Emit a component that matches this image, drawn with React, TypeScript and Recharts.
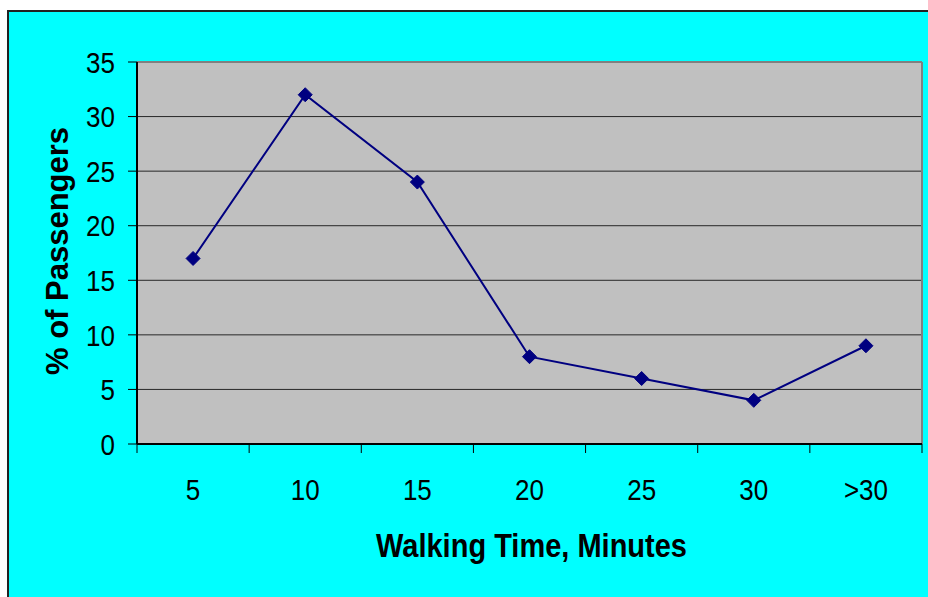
import React from "react";
import {
  LineChart,
  Line,
  XAxis,
  YAxis,
  CartesianGrid,
  ReferenceLine,
  Label,
} from "recharts";

const categories = ["5", "10", "15", "20", "25", "30", ">30"];
const passengers = [17, 32, 24, 8, 6, 4, 9];
const yTicks = [0, 5, 10, 15, 20, 25, 30, 35];
// band edges (tick marks) and band centres (labels)
const xTicks = [0, 0.5, 1, 1.5, 2, 2.5, 3, 3.5, 4, 4.5, 5, 5.5, 6, 6.5, 7];

// points sit in the middle of each category band
const data = passengers.map((v, i) => ({ x: i + 0.5, pct: v }));

const FONT = "'Liberation Sans', Arial, sans-serif";
const STRETCH = 1.15;

function Diamond(props: any) {
  const { cx, cy } = props;
  if (cx == null || cy == null) return null;
  const r = 7;
  return (
    <polygon
      points={`${cx},${cy - r} ${cx + r},${cy} ${cx},${cy + r} ${cx - r},${cy}`}
      fill="#000080"
      stroke="#000080"
    />
  );
}

function YTick(props: any) {
  const { x, y, payload } = props;
  return (
    <g transform={`translate(${x},${y})`}>
      <text
        transform={`scale(1,${STRETCH})`}
        textAnchor="end"
        dy="0.36em"
        fontSize={26}
        fontFamily={FONT}
        fill="#000"
      >
        {payload.value}
      </text>
    </g>
  );
}

function XTick(props: any) {
  const { x, y, payload } = props;
  const v = payload.value;
  if (Number.isInteger(v)) {
    return <line x1={x} x2={x} y1={y} y2={y + 9} stroke="#000" strokeWidth={1} />;
  }
  const label = categories[Math.floor(v)];
  return (
    <g transform={`translate(${x},${y + 56})`}>
      <text
        transform={`scale(1,${STRETCH})`}
        textAnchor="middle"
        fontSize={26}
        fontFamily={FONT}
        fill="#000"
      >
        {label}
      </text>
    </g>
  );
}

function XTitle(props: any) {
  const vb = props.viewBox;
  return (
    <g transform={`translate(${vb.x + vb.width / 2 + 2},${vb.y + 113})`}>
      <text
        transform={`scale(1,${STRETCH})`}
        textAnchor="middle"
        fontSize={29}
        fontWeight="bold"
        fontFamily={FONT}
        fill="#000"
      >
        Walking Time, Minutes
      </text>
    </g>
  );
}

function YTitle(props: any) {
  const vb = props.viewBox;
  const cx = vb.x + 68;
  const cy = vb.y + vb.height / 2 - 2;
  return (
    <text
      transform={`translate(${cx},${cy}) rotate(-90)`}
      textAnchor="middle"
      fontSize={31}
      fontWeight="bold"
      fontFamily={FONT}
      fill="#000"
    >
      % of Passengers
    </text>
  );
}

export default function App() {
  return (
    <div
      style={{
        position: "fixed",
        left: 0,
        top: 0,
        width: 928,
        height: 597,
        background: "#fff",
        overflow: "hidden",
      }}
    >
      {/* FRAME */}
      <div
        style={{
          position: "absolute",
          left: 7,
          top: 10,
          width: 960,
          height: 620,
          background: "#00FFFF",
          borderLeft: "2px solid #222",
          borderTop: "2px solid #222",
        }}
      />
      {/* CHART */}
      <div style={{ position: "absolute", left: 0, top: 0 }}>
        <LineChart
          width={928}
          height={597}
          data={data}
          margin={{ top: 62, right: 6, left: 0, bottom: 0 }}
        >
          <CartesianGrid
            vertical={false}
            fill="#C0C0C0"
            fillOpacity={1}
            stroke="#000"
            strokeOpacity={0.8}
          />
          <XAxis
            dataKey="x"
            type="number"
            domain={[0, 7]}
            ticks={xTicks}
            tick={<XTick />}
            tickLine={false}
            tickSize={0}
            tickMargin={0}
            height={153}
            axisLine={{ stroke: "#000", strokeWidth: 2 }}
            interval={0}
          >
            <Label content={<XTitle />} />
          </XAxis>
          <YAxis
            type="number"
            domain={[0, 35]}
            ticks={yTicks}
            width={137}
            tickSize={9}
            tickMargin={13}
            tick={<YTick />}
            stroke="#000"
            axisLine={{ stroke: "#000", strokeWidth: 2 }}
            interval={0}
          >
            <Label content={<YTitle />} />
          </YAxis>
          <ReferenceLine y={35} stroke="#808080" strokeWidth={2} />
          <ReferenceLine x={7} stroke="#808080" strokeWidth={2} />
          <Line
            type="linear"
            dataKey="pct"
            stroke="#000080"
            strokeWidth={2}
            dot={<Diamond />}
            activeDot={false}
            isAnimationActive={false}
          />
        </LineChart>
      </div>
    </div>
  );
}
